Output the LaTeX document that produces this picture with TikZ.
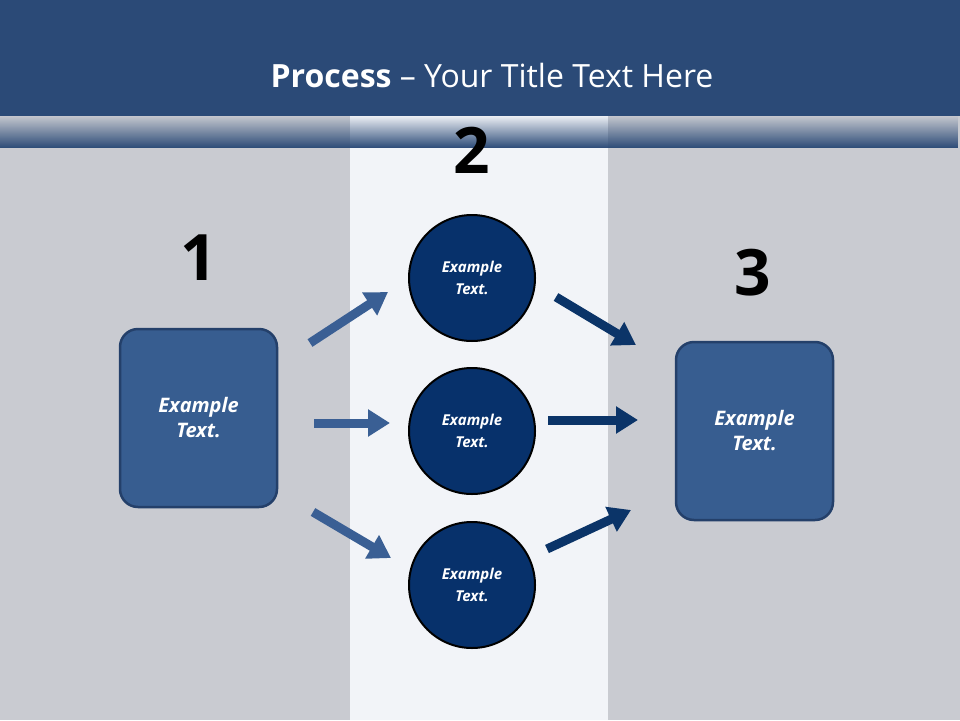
\documentclass[tikz,border=0pt]{standalone}
\usepackage{fontspec}
\setmainfont{Open Sans}
\usetikzlibrary{fadings,arrows.meta}
\definecolor{hdr}{HTML}{2B4A77}
\definecolor{bg}{HTML}{C9CBD1}
\definecolor{col}{HTML}{F2F4F8}
\definecolor{boxf}{HTML}{375D90}
\definecolor{boxd}{HTML}{24406A}
\definecolor{circf}{HTML}{07316B}
\definecolor{arrl}{HTML}{3A5F94}
\definecolor{arrr}{HTML}{0B3468}
\tikzset{
 sq/.style={draw=boxd,line width=2.5pt,fill=boxf,rounded corners=18pt,minimum width=157pt,minimum height=178pt,text=white,font=\fontsize{20}{25}\selectfont\bfseries\itshape,align=center},
 ci/.style={draw=black,line width=2pt,fill=circf,circle,minimum size=126pt,text=white,font=\fontsize{15}{22}\selectfont\bfseries\itshape,align=center},
 num/.style={font=\fontsize{64}{64}\selectfont\bfseries},
 arr/.style={line width=9pt,-{Triangle[length=22pt,width=26pt]}}
}
\begin{document}
\begin{tikzpicture}[x=1pt,y=-1pt]
\useasboundingbox (0,0) rectangle (960,720);
\fill[bg] (0,0) rectangle (960,720);
\fill[col] (350,100) rectangle (608,720);
\fill[hdr] (0,0) rectangle (960,116);
\fill[hdr,path fading=north] (0,115) rectangle (960,148);
\node[text=white,font=\fontsize{32}{36}\selectfont] (title) at (492,75) {\textbf{Process} -- Your Title Text Here};
\node[num] (n1) at (199,258) {1};
\node[num] (n2) at (472,150) {2};
\node[num] (n3) at (753,273) {3};
\node[sq] (b1) at (198.5,418) {Example\\Text.};
\node[sq] (b3) at (754.5,431) {Example\\Text.};
\node[ci] (c1) at (472,278) {Example\\Text.};
\node[ci] (c2) at (472,431) {Example\\Text.};
\node[ci] (c3) at (472,585) {Example\\Text.};
\coordinate (a1s) at (310,343); \coordinate (a1e) at (388,292);
\coordinate (a2s) at (314,423); \coordinate (a2e) at (390,423);
\coordinate (a3s) at (313,512); \coordinate (a3e) at (391,558);
\coordinate (a4s) at (556,297); \coordinate (a4e) at (636,345);
\coordinate (a5s) at (548,420); \coordinate (a5e) at (638,420);
\coordinate (a6s) at (547,549); \coordinate (a6e) at (631,510);
\draw[arr,arrl] (a1s) -- (a1e);
\draw[arr,arrl] (a2s) -- (a2e);
\draw[arr,arrl] (a3s) -- (a3e);
\draw[arr,arrr] (a4s) -- (a4e);
\draw[arr,arrr] (a5s) -- (a5e);
\draw[arr,arrr] (a6s) -- (a6e);
\end{tikzpicture}
\end{document}
